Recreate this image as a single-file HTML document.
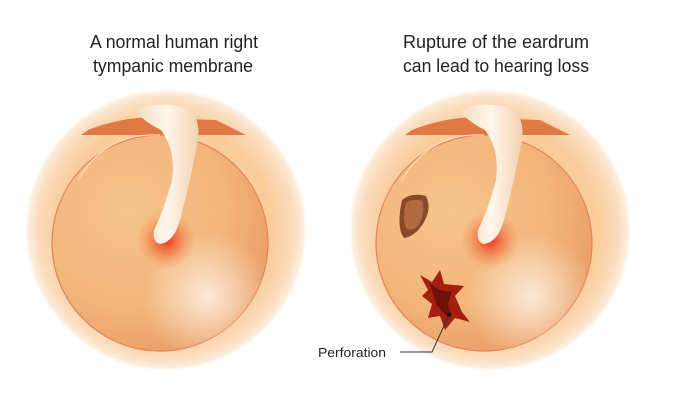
<!DOCTYPE html>
<html><head><style>html,body{margin:0;padding:0;background:#fff}svg{display:block}</style></head>
<body>
<svg width="673" height="402" viewBox="0 0 673 402" xmlns="http://www.w3.org/2000/svg">
<defs>
<radialGradient id="halo" cx="0.5" cy="0.5" r="0.5">
<stop offset="0.75" stop-color="#f9cc9a"/><stop offset="0.9" stop-color="#fbdcbc"/><stop offset="0.97" stop-color="#fdeede"/><stop offset="1" stop-color="#fff" stop-opacity="0"/>
</radialGradient>
<radialGradient id="disk" cx="0.35" cy="0.35" r="0.75">
<stop offset="0" stop-color="#f6c48e"/><stop offset="0.6" stop-color="#f3b57a"/><stop offset="1" stop-color="#e99a62"/>
</radialGradient>
<radialGradient id="shine" cx="0.72" cy="0.75" r="0.3">
<stop offset="0" stop-color="#fdf0e2" stop-opacity="0.9"/><stop offset="1" stop-color="#fdf0e2" stop-opacity="0"/>
</radialGradient>
<radialGradient id="red" cx="0.5" cy="0.5" r="0.5">
<stop offset="0" stop-color="#e8321a"/><stop offset="0.5" stop-color="#f06a3a" stop-opacity="0.6"/><stop offset="1" stop-color="#f39a5a" stop-opacity="0"/>
</radialGradient>
<linearGradient id="bone" x1="0" y1="0" x2="1" y2="0">
<stop offset="0" stop-color="#f6dcc0"/><stop offset="0.5" stop-color="#fff6ec"/><stop offset="1" stop-color="#f4d2b0"/>
</linearGradient>
<g id="ear">
<circle cx="0" cy="0" r="142" fill="url(#halo)"/>
<path d="M-78,-100 Q-40,-115 -5,-112 L50,-110 Q70,-100 80,-95 L-85,-95 Z" fill="#e07a45"/>
<circle cx="-6" cy="13" r="108" fill="url(#disk)" stroke="#e0855a" stroke-width="1.2"/>
<path d="M-88,-50 Q-60,-98 -6,-95" fill="none" stroke="#fbe2c8" stroke-width="1"/>
<circle cx="-6" cy="13" r="108" fill="url(#shine)"/>
<circle cx="0" cy="10" r="30" fill="url(#red)"/>
<path d="M-30,-120 Q-10,-130 20,-122 Q38,-112 30,-80 Q22,-40 14,-10 Q8,12 -6,14 Q-14,12 -12,0 Q-2,-20 6,-50 Q10,-80 -5,-100 Q-25,-110 -30,-120 Z" fill="url(#bone)"/>
</g>
</defs>
<g font-family="Liberation Sans, sans-serif" font-size="18" fill="#222" text-anchor="middle">
<text x="174" y="48" textLength="168" lengthAdjust="spacingAndGlyphs">A normal human right</text>
<text x="173" y="72" textLength="160" lengthAdjust="spacingAndGlyphs">tympanic membrane</text>
<text x="496" y="48" textLength="186" lengthAdjust="spacingAndGlyphs">Rupture of the eardrum</text>
<text x="496" y="72" textLength="186" lengthAdjust="spacingAndGlyphs">can lead to hearing loss</text>
</g>
<use href="#ear" x="166" y="230"/>
<use href="#ear" x="490" y="230"/>
<path d="M402,200 Q412,192 426,196 Q432,208 424,222 Q416,236 404,238 Q396,228 402,200 Z" fill="#8a4a2a"/>
<path d="M406,203 Q414,198 422,201 Q426,212 418,226 Q410,232 406,228 Q402,218 406,203 Z" fill="#b06a42"/>
<path d="M420,275 L432,282 L440,270 L444,284 L464,286 L455,296 L462,312 L470,322 L455,318 L445,330 L440,316 L428,318 L432,304 L422,296 L428,290 Z" fill="#a3200f"/>
<path d="M430,284 L440,290 L452,292 L448,304 L452,316 L444,314 L436,304 Z" fill="#6e1208"/>
<circle cx="449" cy="315" r="2.2" fill="#111"/>
<path d="M449,315 L432,352 L400,352" fill="none" stroke="#333" stroke-width="1"/>
<text x="318" y="357" font-family="Liberation Sans, sans-serif" font-size="13" fill="#222" textLength="68" lengthAdjust="spacingAndGlyphs">Perforation</text>
</svg>
</body></html>
